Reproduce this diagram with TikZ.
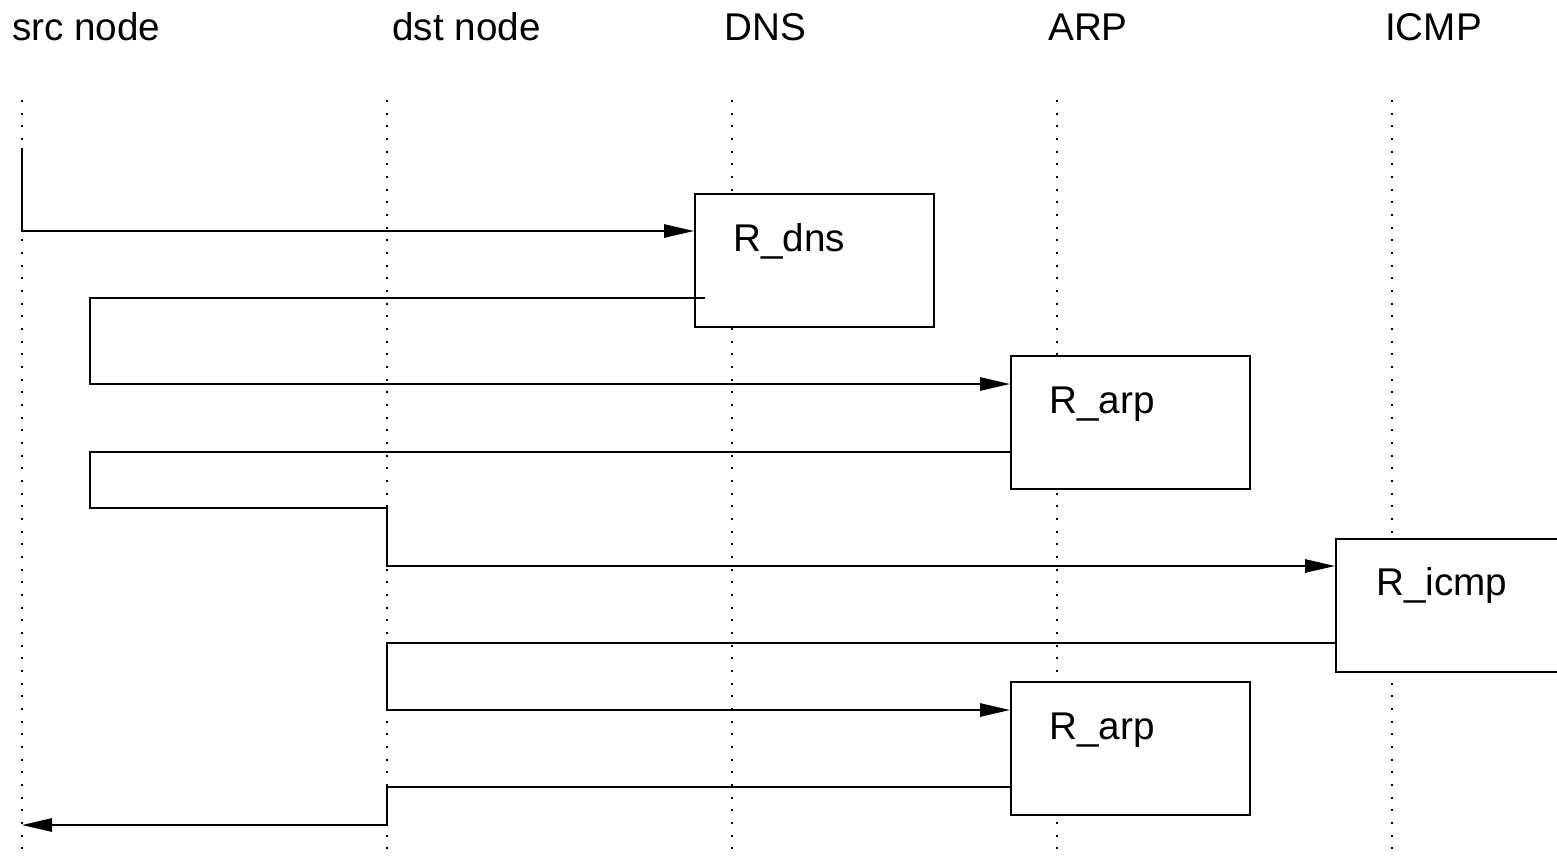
\documentclass[tikz,border=0pt]{standalone}
\usepackage{fontspec}
\setmainfont{Liberation Sans}
\usetikzlibrary{arrows.meta}
\begin{document}
\begin{tikzpicture}[x=0.03cm,y=-0.03cm,
  every node/.style={font=\fontsize{33}{40}\selectfont, inner sep=0pt},
  lifeline/.style={line width=1.4pt, dash pattern=on 0.06cm off 0.32cm},
  msg/.style={line width=1.5pt, -{Triangle[length=0.9cm,width=0.4cm]}},
  wire/.style={line width=1.5pt},
  proc/.style={draw, line width=1.5pt, fill=white, anchor=north west,
    minimum width=7.17cm, minimum height=3.99cm},
  head/.style={anchor=base west},
  plabel/.style={anchor=base west}]
\useasboundingbox (0,0) rectangle (1557,855);

% column headers
\node[head] (hsrc)  at (12,40)   {src node};
\node[head] (hdst)  at (392,40)  {dst node};
\node[head] (hdns)  at (724,40)  {DNS};
\node[head] (harp)  at (1048,40) {ARP};
\node[head] (hicmp) at (1385,40) {ICMP};

% lifelines
\coordinate (lsrc) at (22,100);   \coordinate (lsrcE) at (22,855);
\coordinate (ldst) at (387,100);  \coordinate (ldstE) at (387,855);
\coordinate (ldns) at (732,100);  \coordinate (ldnsE) at (732,855);
\coordinate (larp) at (1057,100); \coordinate (larpE) at (1057,855);
\coordinate (licmp) at (1392,100);\coordinate (licmpE) at (1392,855);
\foreach \a in {src,dst,dns,arp,icmp}
  \draw[lifeline] (l\a) -- (l\a E);

% processing boxes
\node[proc] (rdns)  at (694,193)  {};
\node[proc] (rarp)  at (1010,355) {};
\node[proc, minimum width=7.4cm] (ricmp) at (1335,538) {};
\node[proc] (rarpb) at (1010,681) {};
\node[plabel] (tdns)  at (733,251)  {R\_dns};
\node[plabel] (tarp)  at (1049,413) {R\_arp};
\node[plabel] (ticmp) at (1376,595) {R\_icmp};
\node[plabel] (tarpb) at (1049,739) {R\_arp};

% message flow
\coordinate (s0) at (22,148);
\draw[msg] (s0) |- (rdns.west |- 0,231);

\coordinate (d0) at (705,298);
\coordinate (d1) at (90,298);
\draw[msg] (d0) -- (d1) |- (rarp.west |- 0,384);

\coordinate (a0) at (rarp.west |- 0,452);
\coordinate (a1) at (90,452);
\coordinate (a2) at (387,508);
\draw[msg] (a0) -- (a1) |- (a2) |- (ricmp.west |- 0,566);

\coordinate (i0) at (ricmp.west |- 0,643);
\coordinate (i1) at (387,643);
\draw[msg] (i0) -- (i1) |- (rarpb.west |- 0,710);

\coordinate (b0) at (rarpb.west |- 0,787);
\coordinate (b1) at (387,787);
\coordinate (b2) at (22,825);
\draw[msg] (b0) -- (b1) |- (b2);
\end{tikzpicture}
\end{document}
